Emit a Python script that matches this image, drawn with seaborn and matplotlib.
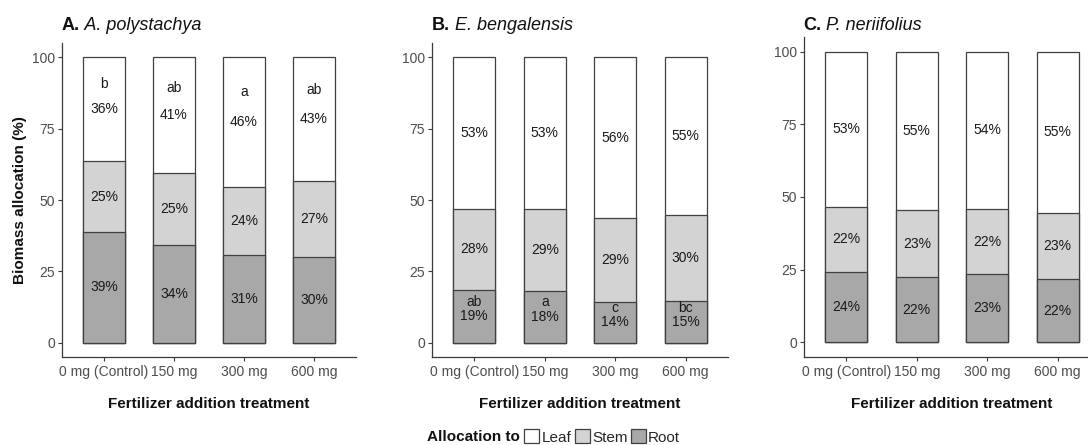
import numpy as np
import pandas as pd
import matplotlib
matplotlib.use("Agg")
import matplotlib.pyplot as plt
import seaborn as sns
from matplotlib.patches import Patch

# ---------------- data ----------------
treatments = ["0 mg (Control)", "150 mg", "300 mg", "600 mg"]
species = ["A. polystachya", "E. bengalensis", "P. neriifolius"]
panel_tags = ["A.", "B.", "C."]

leaf_A = [36.4, 40.6, 45.6, 43.3]
stem_A = [24.9, 25.1, 23.8, 26.8]
root_A = [38.7, 34.3, 30.6, 29.9]

leaf_B = [53.2, 53.0, 56.4, 55.4]
stem_B = [28.2, 29.0, 29.4, 29.9]
root_B = [18.6, 18.0, 14.2, 14.7]

leaf_C = [53.4, 54.6, 54.2, 55.4]
stem_C = [22.4, 23.0, 22.4, 22.8]
root_C = [24.2, 22.4, 23.4, 21.8]

letters_A = ["b", "ab", "a", "ab"]
letter_y_A = [90.5, 89.4, 88.0, 88.6]
letters_B = ["ab", "a", "c", "bc"]
letter_y_B = [14.1, 14.1, 12.0, 12.0]

parts = ["Leaf", "Stem", "Root"]
yticks = [0, 25, 50, 75, 100]

# ---------------- style ----------------
sns.set_theme(style="ticks")
plt.rcParams["font.family"] = ["Liberation Sans", "DejaVu Sans"]

W, H = 1088, 445
fig = plt.figure(figsize=(W / 100, H / 100), dpi=100)

leaf_color = "#FFFFFF"
stem_color = "#D3D3D3"
root_color = "#A8A8A8"
edge = "#404040"
axis_col = "#3a3a3a"
tick_txt = "#4D4D4D"

def px_axes(left, right, top, bottom):
    return fig.add_axes([left / W, (H - bottom) / H, (right - left) / W, (bottom - top) / H])

axes = [
    px_axes(62, 356, 43, 357),
    px_axes(432, 728, 43, 357),
    px_axes(804, 1100, 37, 357),
]
title_x = [62, 432, 803]

data = [
    (leaf_A, stem_A, root_A, letters_A, letter_y_A),
    (leaf_B, stem_B, root_B, letters_B, letter_y_B),
    (leaf_C, stem_C, root_C, None, None),
]

for i, (ax, (leaf, stem, root, letters, letter_y)) in enumerate(zip(axes, data)):
    df = pd.DataFrame({"treatment": treatments, "leaf": leaf, "stem": stem, "root": root})
    df["top"] = df["leaf"] + df["stem"] + df["root"]
    df["mid"] = df["stem"] + df["root"]
    for col, color in [("top", leaf_color), ("mid", stem_color), ("root", root_color)]:
        sns.barplot(data=df, x="treatment", y=col, order=treatments, color=color,
                    saturation=1, width=0.6, errorbar=None, edgecolor=edge,
                    linewidth=0.9, ax=ax)
    # percentage labels at segment centres
    for j in range(len(treatments)):
        r, s, l = df["root"][j], df["stem"][j], df["leaf"][j]
        for val, y in [(r, r / 2), (s, r + s / 2), (l, r + s + l / 2)]:
            ax.text(j, y, f"{val:.0f}%", ha="center", va="center", fontsize=10,
                    color="#1a1a1a")
        if letters is not None:
            ax.text(j, letter_y[j], letters[j], ha="center", va="center",
                    fontsize=10, color="#1a1a1a")

    ax.set_xlim(-0.6, 3.6)
    ax.set_ylim(-5, 105)
    ax.set_yticks(yticks)
    ax.set_yticklabels([str(t) for t in yticks])
    ax.set_xlabel("")
    ax.set_ylabel("")
    for s in ["top", "right"]:
        ax.spines[s].set_visible(False)
    for s in ["left", "bottom"]:
        ax.spines[s].set_color(axis_col)
        ax.spines[s].set_linewidth(0.9)
    ax.tick_params(axis="both", length=3, width=0.8, color=axis_col,
                   labelcolor=tick_txt, labelsize=10, pad=2)
    ax.tick_params(axis="x", pad=3)
    ax.annotate("Fertilizer addition treatment", xy=(0.5, 0), xycoords="axes fraction",
                xytext=(0, -47), textcoords="offset pixels", ha="center", va="center",
                fontsize=11, fontweight="bold", color="#111111")

    t1 = fig.text(title_x[i] / W, 1 - 25 / H, panel_tags[i], ha="left", va="center",
                  fontsize=13, fontweight="bold", color="#111111")
    ax.annotate(" " + species[i], xy=(1, 0), xycoords=t1, ha="left", va="bottom",
                fontsize=13, fontstyle="italic", color="#111111")

fig.text(20 / W, 1 - 200 / H, "Biomass allocation (%)", rotation=90, ha="center",
         va="center", fontsize=11, fontweight="bold", color="#111111")

# legend
fig.text(520 / W, 1 - 437 / H, "Allocation to", ha="right", va="center",
         fontsize=11, fontweight="bold", color="#111111")
handles = [Patch(facecolor=c, edgecolor=edge, linewidth=0.9, label=p)
           for c, p in zip([leaf_color, stem_color, root_color], parts)]
fig.legend(handles=handles, loc="center left", bbox_to_anchor=(524 / W, 1 - 437 / H),
           ncol=3, frameon=False, handlelength=1.0, handleheight=1.0,
           handletextpad=0.15, columnspacing=0.2, fontsize=11, borderpad=0,
           borderaxespad=0)

fig.savefig("out.png", dpi=100)
